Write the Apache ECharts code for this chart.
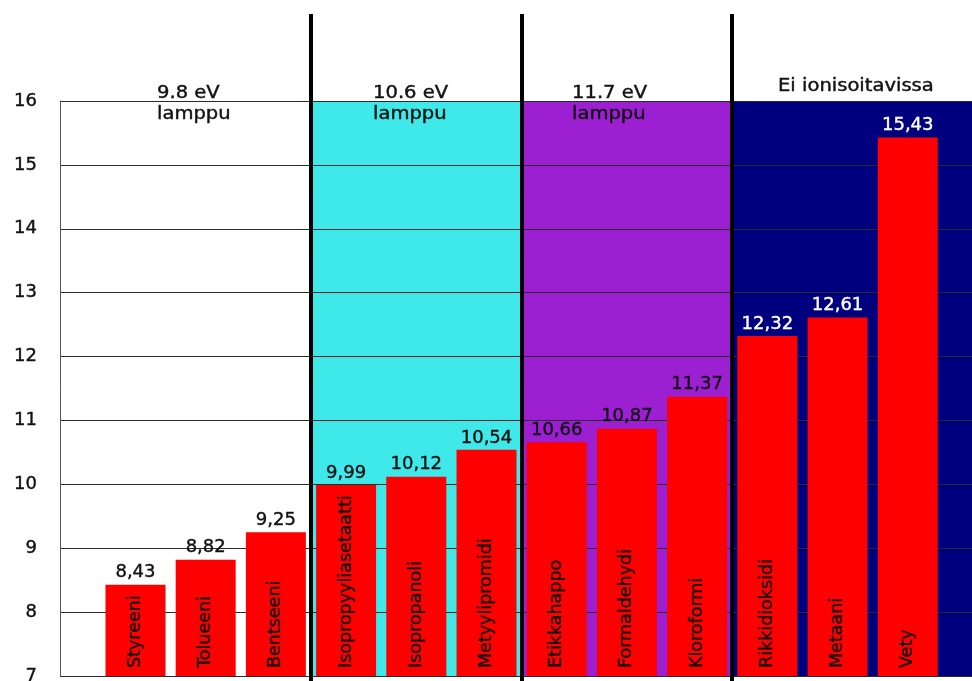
<!DOCTYPE html>
<html>
<head>
<meta charset="utf-8">
<script src="https://cdn.jsdelivr.net/npm/echarts@6/dist/echarts.min.js"></script>
<style>
  html, body { margin: 0; padding: 0; background: #ffffff; }
  #chart { width: 972px; height: 681px; }
</style>
</head>
<body>
<div id="chart"></div>
<script>
// Ionisation energies (eV) of common compounds, grouped by the PID lamp able to ionise them
const categories = ['Styreeni', 'Tolueeni', 'Bentseeni', 'Isopropyyliasetaatti', 'Isopropanoli',
  'Metyylipromidi', 'Etikkahappo', 'Formaldehydi', 'Kloroformi', 'Rikkidioksidi', 'Metaani', 'Vety'];
const ionizationEnergies = [8.43, 8.82, 9.25, 9.99, 10.12, 10.54, 10.66, 10.87, 11.37, 12.32, 12.61, 15.43];

// Lamp groups: heading text and index of the first compound in each group
const groupTitles = ['9.8 eV\nlamppu', '10.6 eV\nlamppu', '11.7 eV\nlamppu', 'Ei ionisoitavissa'];
const groupStarts = [0, 3, 6, 9];

// Value axis range
const yMin = 7;
const yMax = 16;
const yStep = 1;

// ---- styling ----
const FONT = 'DejaVu Sans';
const groupColors = ['#ffffff', '#40e9e9', '#9c1fd2', '#00007f'];
const groupLabelColors = ['#111111', '#111111', '#111111', '#ffffff'];
const headerPos = [[157, 83], [373, 83], [572, 83], [778, 76]];
const X_MIN = -1.075, X_MAX = 11.915;

function groupOf(i) {
  let g = 0;
  groupStarts.forEach((s, k) => { if (i >= s) g = k; });
  return g;
}

const chart = echarts.init(document.getElementById('chart'), null, { renderer: 'canvas' });

const backgroundAreas = groupStarts.map((s, k) => {
  const from = k === 0 ? X_MIN : s - 0.5;
  const to = k === groupStarts.length - 1 ? X_MAX : groupStarts[k + 1] - 0.5;
  return [{ xAxis: from, itemStyle: { color: groupColors[k], opacity: 1 } }, { xAxis: to }];
});

const barData = ionizationEnergies.map((v, i) => {
  const c = groupLabelColors[groupOf(i)];
  return { value: [i, v], label: { color: c, textBorderColor: c } };
});

const nameData = ionizationEnergies.map((v, i) => ({ value: [i, v], name: categories[i] }));

const option = {
  animation: false,
  backgroundColor: '#ffffff',
  grid: [
    { left: 60, right: 0, top: 101, bottom: 5, outerBoundsMode: 'none', containLabel: false },
    { left: 60, right: 0, top: 14, bottom: 0, outerBoundsMode: 'none', containLabel: false }
  ],
  xAxis: [
    { type: 'value', gridIndex: 0, min: X_MIN, max: X_MAX, show: false },
    { type: 'value', gridIndex: 1, min: X_MIN, max: X_MAX, show: false }
  ],
  yAxis: [
    {
      type: 'value', gridIndex: 0, min: yMin, max: yMax, interval: yStep, z: 2,
      axisLine: { show: true, onZero: false, lineStyle: { color: '#555555', width: 1 } },
      axisTick: { show: false },
      axisLabel: {
        fontFamily: FONT, fontSize: 18, color: '#111111', margin: 23,
        textBorderColor: '#111111', textBorderWidth: 0.4
      },
      splitLine: { show: true, lineStyle: { color: '#2a2a2a', width: 1 } }
    },
    { type: 'value', gridIndex: 1, min: 0, max: 1, show: false }
  ],
  graphic: groupTitles.map((t, k) => ({
    type: 'text',
    x: headerPos[k][0],
    y: headerPos[k][1],
    scaleX: 1.15,
    z: 20,
    style: {
      text: t,
      fill: '#111111',
      stroke: '#111111',
      lineWidth: 0.4,
      font: '17px "' + FONT + '"',
      lineHeight: 21,
      textAlign: 'left',
      textVerticalAlign: 'top'
    }
  })),
  series: [
    {
      // coloured group backgrounds
      type: 'line', xAxisIndex: 0, yAxisIndex: 0, data: [], z: 1,
      markArea: { silent: true, data: backgroundAreas }
    },
    {
      type: 'bar', xAxisIndex: 0, yAxisIndex: 0, z: 3,
      data: barData,
      barWidth: 60,
      itemStyle: { color: '#ff0000' },
      label: {
        show: true, position: 'top', distance: 3,
        fontFamily: FONT, fontSize: 18, textBorderWidth: 0.4,
        formatter: p => p.value[1].toFixed(2).replace('.', ',')
      }
    },
    {
      // compound names written upwards inside the bars
      type: 'bar', xAxisIndex: 0, yAxisIndex: 0, z: 4,
      data: nameData,
      barWidth: 60, barGap: '-100%',
      itemStyle: { color: 'rgba(0,0,0,0)' },
      label: {
        show: true, position: 'insideBottom', rotate: 90, distance: 8,
        align: 'left', verticalAlign: 'middle',
        fontFamily: FONT, fontSize: 17.5, color: '#111111',
        textBorderColor: '#111111', textBorderWidth: 0.4,
        formatter: p => p.name
      }
    },
    {
      // separators between lamp groups
      type: 'line', xAxisIndex: 1, yAxisIndex: 1, data: [], z: 10,
      markLine: {
        silent: true, symbol: ['none', 'none'],
        label: { show: false },
        lineStyle: { color: '#000000', width: 4, type: 'solid' },
        data: groupStarts.slice(1).map(s => ({ xAxis: s - 0.5 }))
      }
    }
  ]
};

chart.setOption(option);
</script>
</body>
</html>
